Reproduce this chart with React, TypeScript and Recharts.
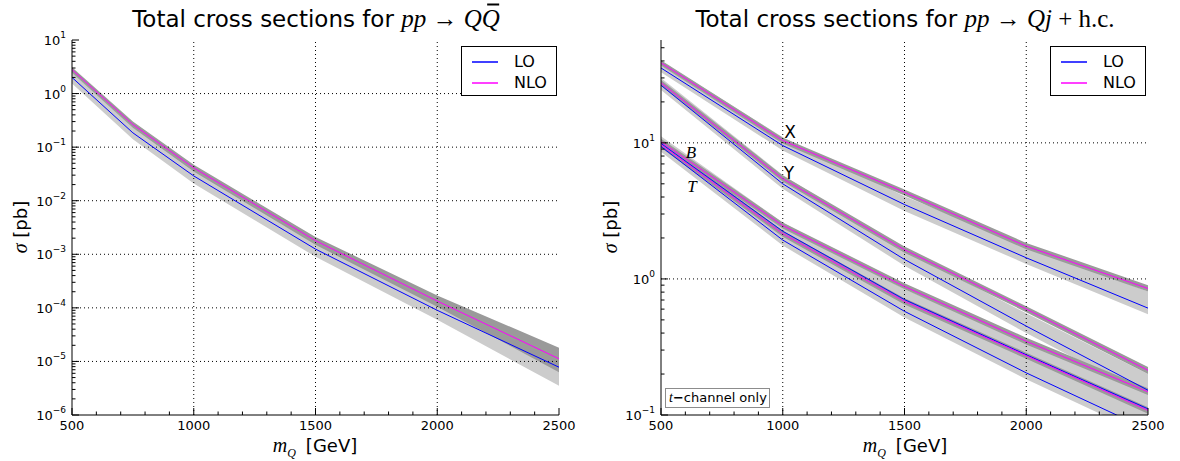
import React from "react";
import {
  ComposedChart,
  Line,
  Area,
  XAxis,
  YAxis,
  ReferenceLine,
  ReferenceDot,
  Legend,
} from "recharts";

// left panel: pp -> Q Qbar
const pairMass = [500, 750, 1000, 1500, 2000, 2500];
const pairLO = [2.0, 0.185, 0.029, 0.00125, 9.0e-5, 7.8e-6];
const pairNLO = [2.8, 0.265, 0.041, 0.0018, 1.34e-4, 1.12e-5];
const pairLOMin = [1.55, 0.14, 0.021, 0.0009, 6.0e-5, 3.5e-6];
const pairLOMax = [2.5, 0.235, 0.037, 0.0016, 1.2e-4, 1.05e-5];
const pairNLOMin = [2.45, 0.23, 0.035, 0.0015, 1.05e-4, 6.3e-6];
const pairNLOMax = [3.1, 0.3, 0.047, 0.0021, 1.7e-4, 1.8e-5];

// right panel: pp -> Qj + h.c.
const singleMass = [500, 1000, 1500, 2000, 2500];
const xLO = [35.5, 9.55, 3.52, 1.43, 0.61];
const xNLO = [38.7, 10.4, 4.33, 1.74, 0.85];
const xLOMin = [33, 8.8, 3.15, 1.29, 0.55];
const xLOMax = [40, 11, 4.05, 1.75, 0.81];
const xNLOMin = [37, 9.9, 4.1, 1.65, 0.81];
const xNLOMax = [40.5, 10.9, 4.55, 1.84, 0.9];

const yLO = [26.5, 5.0, 1.39, 0.45, 0.152];
const yNLO = [27.6, 5.45, 1.64, 0.6, 0.213];
const yLOMin = [24.5, 4.6, 1.25, 0.4, 0.137];
const yLOMax = [30, 5.8, 1.62, 0.56, 0.2];
const yNLOMin = [26.3, 5.2, 1.56, 0.57, 0.2];
const yNLOMax = [29, 5.75, 1.73, 0.63, 0.225];

const bLO = [9.9, 2.24, 0.705, 0.277, 0.111];
const bNLO = [10.2, 2.47, 0.88, 0.348, 0.148];
const bLOMin = [9.1, 2.05, 0.64, 0.25, 0.1];
const bLOMax = [11.2, 2.6, 0.84, 0.35, 0.145];
const bNLOMin = [9.7, 2.35, 0.84, 0.33, 0.14];
const bNLOMax = [10.7, 2.6, 0.93, 0.37, 0.157];

const tLO = [9.4, 1.93, 0.578, 0.204, 0.078];
const tNLO = [9.7, 2.15, 0.684, 0.273, 0.108];
const tLOMin = [8.6, 1.76, 0.52, 0.183, 0.07];
const tLOMax = [10.6, 2.25, 0.69, 0.26, 0.105];
const tNLOMin = [9.2, 2.04, 0.65, 0.259, 0.102];
const tNLOMax = [10.2, 2.26, 0.72, 0.287, 0.114];

// axes
const xMajor = [500, 1000, 1500, 2000, 2500];
const xGrid = [1000, 1500, 2000];
const pairYDomain = [1e-6, 10];
const pairYMajor = [1e-6, 1e-5, 1e-4, 1e-3, 1e-2, 1e-1, 1, 10];
const singleYDomain = [0.1, 57];
const singleYMajor = [0.1, 1, 10];

const LO_COLOR = "#0000ff";
const NLO_COLOR = "#ff00ff";
const LO_BAND = "#cccccc";
const NLO_BAND = "#9a9a9a";
const SANS = "DejaVu Sans, sans-serif";
const SERIF = "Liberation Serif, serif";

const xTicks = Array.from({ length: 21 }, (_, i) => 500 + 100 * i);

function logTicks(majors: number[], top: number) {
  const out: number[] = [];
  majors.forEach((d) => {
    for (let k = 1; k <= 9; k++) {
      const v = k * d;
      if (v <= top * 1.0001) out.push(v);
    }
  });
  return out;
}

const pairYTicks = logTicks(pairYMajor, pairYDomain[1]);
const singleYTicks = logTicks(singleYMajor, singleYDomain[1]);

const pairData = pairMass.map((m, i) => ({
  m,
  lo: pairLO[i],
  nlo: pairNLO[i],
  loBand: [pairLOMin[i], pairLOMax[i]],
  nloBand: [pairNLOMin[i], pairNLOMax[i]],
}));

const processes = [
  { key: "x", lo: xLO, nlo: xNLO, loMin: xLOMin, loMax: xLOMax, nloMin: xNLOMin, nloMax: xNLOMax },
  { key: "y", lo: yLO, nlo: yNLO, loMin: yLOMin, loMax: yLOMax, nloMin: yNLOMin, nloMax: yNLOMax },
  { key: "b", lo: bLO, nlo: bNLO, loMin: bLOMin, loMax: bLOMax, nloMin: bNLOMin, nloMax: bNLOMax },
  { key: "t", lo: tLO, nlo: tNLO, loMin: tLOMin, loMax: tLOMax, nloMin: tNLOMin, nloMax: tNLOMax },
];

const singleData = singleMass.map((m, i) => {
  const row: any = { m };
  processes.forEach((p) => {
    row[p.key + "Lo"] = p.lo[i];
    row[p.key + "Nlo"] = p.nlo[i];
    row[p.key + "LoBand"] = [p.loMin[i], p.loMax[i]];
    row[p.key + "NloBand"] = [p.nloMin[i], p.nloMax[i]];
  });
  return row;
});

function XTick(props: any) {
  const { x, y, payload, side } = props;
  const v = payload.value;
  const major = xMajor.includes(v);
  const len = major ? 7 : 3.5;
  const dir = side === "bottom" ? -1 : 1;
  return (
    <g>
      <line x1={x} x2={x} y1={y} y2={y + dir * len} stroke="#000" strokeWidth={1} />
      {side === "bottom" && major && (
        <text x={x} y={y + 15} textAnchor="middle" fontSize={13} fontFamily={SANS} fill="#000">
          {v}
        </text>
      )}
    </g>
  );
}

function YTick(props: any) {
  const { x, y, payload, side } = props;
  const v = payload.value;
  const lg = Math.log10(v);
  const e = Math.round(lg);
  const major = Math.abs(lg - e) < 1e-6;
  const len = major ? 7 : 3.5;
  const dir = side === "left" ? 1 : -1;
  return (
    <g>
      <line x1={x} x2={x + dir * len} y1={y} y2={y} stroke="#000" strokeWidth={1} />
      {side === "left" && major && (
        <text x={x - 6} y={y + 5} textAnchor="end" fontSize={13} fontFamily={SANS} fill="#000">
          10
          <tspan dy={-7} fontSize={9}>
            {e < 0 ? `\u2212${-e}` : `${e}`}
          </tspan>
        </text>
      )}
    </g>
  );
}

function LegendBox() {
  const row = (color: string, label: string, top: number) => (
    <div style={{ position: "absolute", left: 0, top, width: "100%", height: 20 }}>
      <svg width={26} height={4} style={{ position: "absolute", left: 10, top: 8 }}>
        <line x1={0} x2={26} y1={2} y2={2} stroke={color} strokeWidth={1.5} />
      </svg>
      <div style={{ position: "absolute", left: 52, top: 0, lineHeight: "20px", fontSize: 16, fontFamily: SANS }}>
        {label}
      </div>
    </div>
  );
  return (
    <div
      style={{
        position: "relative",
        width: 96,
        height: 50,
        border: "1px solid #000",
        boxSizing: "border-box",
        background: "#fff",
      }}
    >
      {row(LO_COLOR, "LO", 5)}
      {row(NLO_COLOR, "NLO", 26)}
    </div>
  );
}

function Frame({ domain, ticks, grid }: { domain: number[]; ticks: number[]; grid: number[] }) {
  return [
    <XAxis
      key="xb"
      xAxisId={0}
      dataKey="m"
      type="number"
      domain={[500, 2500]}
      ticks={xTicks}
      interval={0}
      allowDataOverflow
      height={40}
      tickSize={0}
      tickMargin={0}
      tickLine={false}
      axisLine={{ stroke: "#000" }}
      tick={(p: any) => <XTick {...p} side="bottom" />}
    />,
    <XAxis
      key="xt"
      xAxisId="top"
      orientation="top"
      dataKey="m"
      type="number"
      domain={[500, 2500]}
      ticks={xTicks}
      interval={0}
      allowDataOverflow
      height={0}
      tickSize={0}
      tickMargin={0}
      tickLine={false}
      axisLine={{ stroke: "#000" }}
      tick={(p: any) => <XTick {...p} side="top" />}
    />,
    <YAxis
      key="yl"
      yAxisId={0}
      type="number"
      scale="log"
      domain={domain}
      ticks={ticks}
      interval={0}
      allowDataOverflow
      width={52}
      tickSize={0}
      tickMargin={0}
      tickLine={false}
      axisLine={{ stroke: "#000" }}
      tick={(p: any) => <YTick {...p} side="left" />}
    />,
    <YAxis
      key="yr"
      yAxisId="right"
      orientation="right"
      type="number"
      scale="log"
      domain={domain}
      ticks={ticks}
      interval={0}
      allowDataOverflow
      width={0}
      tickSize={0}
      tickMargin={0}
      tickLine={false}
      axisLine={{ stroke: "#000" }}
      tick={(p: any) => <YTick {...p} side="right" />}
    />,
    ...xGrid.map((v) => (
      <ReferenceLine key={"gx" + v} x={v} stroke="#000" strokeDasharray="1 3" strokeWidth={1} />
    )),
    ...grid.map((v) => (
      <ReferenceLine key={"gy" + v} y={v} stroke="#000" strokeDasharray="1 3" strokeWidth={1} />
    )),
  ];
}

const abs = (extra: React.CSSProperties): React.CSSProperties => ({
  position: "absolute",
  whiteSpace: "nowrap",
  transform: "translate(-50%, -50%)",
  lineHeight: 1,
  ...extra,
});

const mathStyle: React.CSSProperties = { fontFamily: SERIF, fontStyle: "italic" };

function AxisLabels({ cx }: { cx: number }) {
  return (
    <>
      <div style={abs({ left: 20, top: 227, transform: "translate(-50%, -50%) rotate(-90deg)", fontFamily: SANS, fontSize: 18 })}>
        <span style={{ ...mathStyle, fontSize: 20 }}>σ</span> [pb]
      </div>
      <div style={abs({ left: cx, top: 445, fontFamily: SANS, fontSize: 18 })}>
        <span style={{ ...mathStyle, fontSize: 20 }}>m</span>
        <span style={{ ...mathStyle, fontSize: 12, position: "relative", top: 5 }}>Q</span>
        <span style={{ marginLeft: 10 }}>[GeV]</span>
      </div>
    </>
  );
}

function PairPanel() {
  return (
    <div style={{ position: "relative", width: 590, height: 461 }}>
      <div style={abs({ left: 316, top: 18, fontFamily: SANS, fontSize: 23 })}>
        Total cross sections for{" "}
        <span style={{ ...mathStyle, fontSize: 25 }}>pp</span>
        <span style={{ fontFamily: SERIF, fontSize: 25 }}> → </span>
        <span style={{ ...mathStyle, fontSize: 25 }}>Q</span>
        <span style={{ ...mathStyle, fontSize: 25, position: "relative" }}>
          Q
          <span style={{ position: "absolute", left: 5, right: 1, top: -1, height: 1.5, background: "#000" }} />
        </span>
      </div>
      <ComposedChart
        width={590}
        height={461}
        data={pairData}
        margin={{ top: 40, right: 31, bottom: 6, left: 20 }}
      >
        {Frame({ domain: pairYDomain, ticks: pairYTicks, grid: [1e-5, 1e-4, 1e-3, 1e-2, 1e-1, 1] })}
        <Area dataKey="loBand" type="linear" stroke="none" fill={LO_BAND} fillOpacity={1} isAnimationActive={false} legendType="none" />
        <Area dataKey="nloBand" type="linear" stroke="none" fill={NLO_BAND} fillOpacity={1} isAnimationActive={false} legendType="none" />
        <Line dataKey="lo" name="LO" type="linear" stroke={LO_COLOR} strokeWidth={1} dot={false} isAnimationActive={false} />
        <Line dataKey="nlo" name="NLO" type="linear" stroke={NLO_COLOR} strokeWidth={1} dot={false} isAnimationActive={false} />
        <Legend
          layout="vertical"
          align="center"
          verticalAlign="middle"
          content={() => <LegendBox />}
          wrapperStyle={{ left: 461, top: 46, width: 96, height: 50 }}
        />
      </ComposedChart>
      <AxisLabels cx={315} />
    </div>
  );
}

function tagLabel(value: string, serif: boolean) {
  return {
    value,
    position: "center" as const,
    fill: "#000",
    fontSize: 17,
    fontFamily: serif ? SERIF : SANS,
    fontStyle: serif ? "italic" : "normal",
  };
}

function SinglePanel() {
  return (
    <div style={{ position: "relative", width: 590, height: 461 }}>
      <div style={abs({ left: 315, top: 18, fontFamily: SANS, fontSize: 23 })}>
        Total cross sections for{" "}
        <span style={{ ...mathStyle, fontSize: 25 }}>pp</span>
        <span style={{ fontFamily: SERIF, fontSize: 25 }}> → </span>
        <span style={{ ...mathStyle, fontSize: 25 }}>Qj</span>
        <span style={{ fontFamily: SERIF, fontSize: 25 }}> + h.c.</span>
      </div>
      <ComposedChart
        width={590}
        height={461}
        data={singleData}
        margin={{ top: 40, right: 32, bottom: 6, left: 19 }}
      >
        {Frame({ domain: singleYDomain, ticks: singleYTicks, grid: [1, 10] })}
        {processes.map((p) => (
          <Area key={p.key + "lb"} dataKey={p.key + "LoBand"} type="linear" stroke="none" fill={LO_BAND} fillOpacity={1} isAnimationActive={false} legendType="none" />
        ))}
        {processes.map((p) => (
          <Area key={p.key + "nb"} dataKey={p.key + "NloBand"} type="linear" stroke="none" fill={NLO_BAND} fillOpacity={1} isAnimationActive={false} legendType="none" />
        ))}
        {processes.map((p) => (
          <Line key={p.key + "l"} dataKey={p.key + "Lo"} type="linear" stroke={LO_COLOR} strokeWidth={1} dot={false} isAnimationActive={false} />
        ))}
        {processes.map((p) => (
          <Line key={p.key + "n"} dataKey={p.key + "Nlo"} type="linear" stroke={NLO_COLOR} strokeWidth={1} dot={false} isAnimationActive={false} />
        ))}
        <ReferenceDot x={1030} y={12.1} r={0} fill="none" stroke="none" label={tagLabel("X", false)} />
        <ReferenceDot x={1025} y={6.05} r={0} fill="none" stroke="none" label={tagLabel("Y", false)} />
        <ReferenceDot x={623} y={8.63} r={0} fill="none" stroke="none" label={tagLabel("B", true)} />
        <ReferenceDot x={627} y={4.85} r={0} fill="none" stroke="none" label={tagLabel("T", true)} />
        <Legend
          layout="vertical"
          align="center"
          verticalAlign="middle"
          content={() => <LegendBox />}
          wrapperStyle={{ left: 460, top: 46, width: 96, height: 50 }}
        />
      </ComposedChart>
      <div
        style={{
          position: "absolute",
          left: 75,
          top: 388,
          width: 105,
          height: 20,
          boxSizing: "border-box",
          border: "1px solid #8c8c8c",
          background: "#fff",
          fontFamily: SANS,
          fontSize: 13,
          lineHeight: "18px",
          paddingLeft: 3,
          whiteSpace: "nowrap",
        }}
      >
        <span style={{ ...mathStyle, fontSize: 14 }}>t</span>
        <b>−</b>channel only
      </div>
      <AxisLabels cx={315} />
    </div>
  );
}

export default function App() {
  return (
    <div style={{ position: "absolute", left: 0, top: 0, width: 1180, height: 461, display: "flex", background: "#fff" }}>
      <PairPanel />
      <SinglePanel />
    </div>
  );
}
